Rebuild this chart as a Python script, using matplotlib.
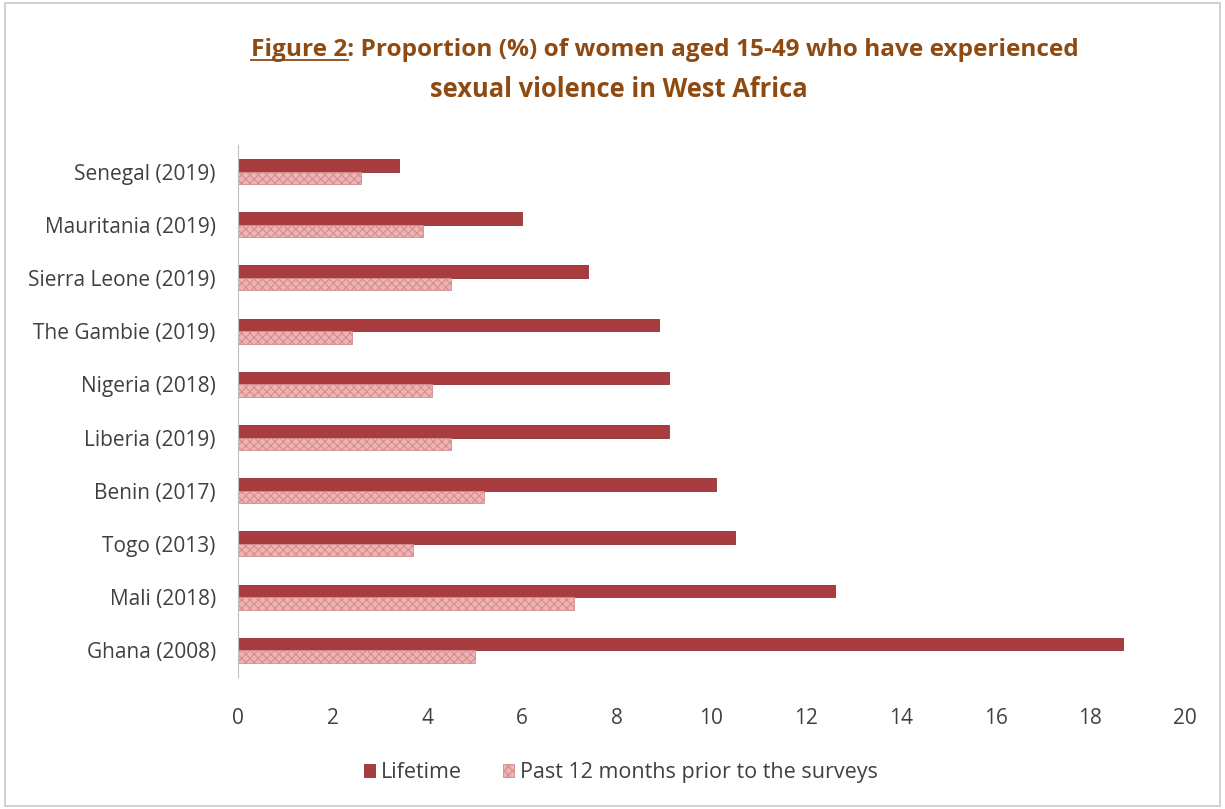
import numpy as np
import matplotlib
matplotlib.use("Agg")
import matplotlib.pyplot as plt
from matplotlib.patches import Rectangle

plt.rcParams['font.family'] = ['Open Sans', 'DejaVu Sans']
plt.rcParams['hatch.linewidth'] = 0.8

# data
countries = ["Senegal (2019)", "Mauritania (2019)", "Sierra Leone (2019)",
             "The Gambie (2019)", "Nigeria (2018)", "Liberia (2019)",
             "Benin (2017)", "Togo (2013)", "Mali (2018)", "Ghana (2008)"]
lifetime = [3.4, 6.0, 7.4, 8.9, 9.1, 9.1, 10.1, 10.5, 12.6, 18.7]
past12 = [2.6, 3.9, 4.5, 2.4, 4.1, 4.5, 5.2, 3.7, 7.1, 5.0]
xticks = [0, 2, 4, 6, 8, 10, 12, 14, 16, 18, 20]

title_color = "#8f4a12"
dark_red = "#a83c3e"
light_red = "#eeb4b4"
text_color = "#404040"

fig = plt.figure(figsize=(12.25, 8.09), dpi=100)
fig.patches.append(Rectangle((0.004, 0.004), 0.992, 0.992, transform=fig.transFigure,
                             fill=False, edgecolor="#c8c8c8", linewidth=1.2))

ax = fig.add_axes([0.1943, 0.1632, 0.773, 0.6576])
y = np.arange(len(countries))
h = 0.235
ax.barh(y - h / 2, lifetime, height=h, color=dark_red, edgecolor="#8e2f31",
        linewidth=0.6, label="Lifetime")
ax.barh(y + h / 2, past12, height=h, color=light_red, edgecolor="#d58d8d",
        hatch="xxxx", linewidth=0.6, label="Past 12 months prior to the surveys")

ax.set_ylim(len(countries) - 0.5, -0.5)
ax.set_xlim(0, 20)
ax.set_yticks(y)
ax.set_yticklabels(countries)
ax.set_xticks(xticks)
ax.tick_params(axis="y", length=0, pad=16, labelsize=15, labelcolor=text_color)
ax.tick_params(axis="x", length=0, pad=22, labelsize=15, labelcolor=text_color)
for s in ["top", "right", "bottom"]:
    ax.spines[s].set_visible(False)
ax.spines["left"].set_color("#bfbfbf")

leg = fig.legend(loc="center", bbox_to_anchor=(0.507, 0.045), ncol=2, frameon=False,
                 fontsize=15.5, handlelength=0.5, handleheight=0.5, handletextpad=0.3,
                 columnspacing=1.9)
for t in leg.get_texts():
    t.set_color(text_color)

# title, with "Figure 2" underlined
line1 = "Figure 2: Proportion (%) of women aged 15-49 who have experienced"
t1 = fig.text(0.543, 0.938, line1, ha="center", va="center", fontsize=17.6,
              fontweight="bold", color=title_color)
fig.text(0.505, 0.889, "sexual violence in West Africa", ha="center", va="center",
         fontsize=18.4, fontweight="bold", color=title_color)
fig.canvas.draw()
r = fig.canvas.get_renderer()
bb = t1.get_window_extent(r)
tmp = fig.text(0, 0, "Figure 2", fontsize=17.6, fontweight="bold")
w = tmp.get_window_extent(r).width
tmp.remove()
x0 = bb.x0 / fig.bbox.width
x1 = (bb.x0 + w) / fig.bbox.width
yl = (bb.y0 + 2) / fig.bbox.height
fig.add_artist(plt.Line2D([x0, x1], [yl, yl], transform=fig.transFigure,
                          color=title_color, linewidth=1.3))

fig.savefig("out.png", dpi=100)
